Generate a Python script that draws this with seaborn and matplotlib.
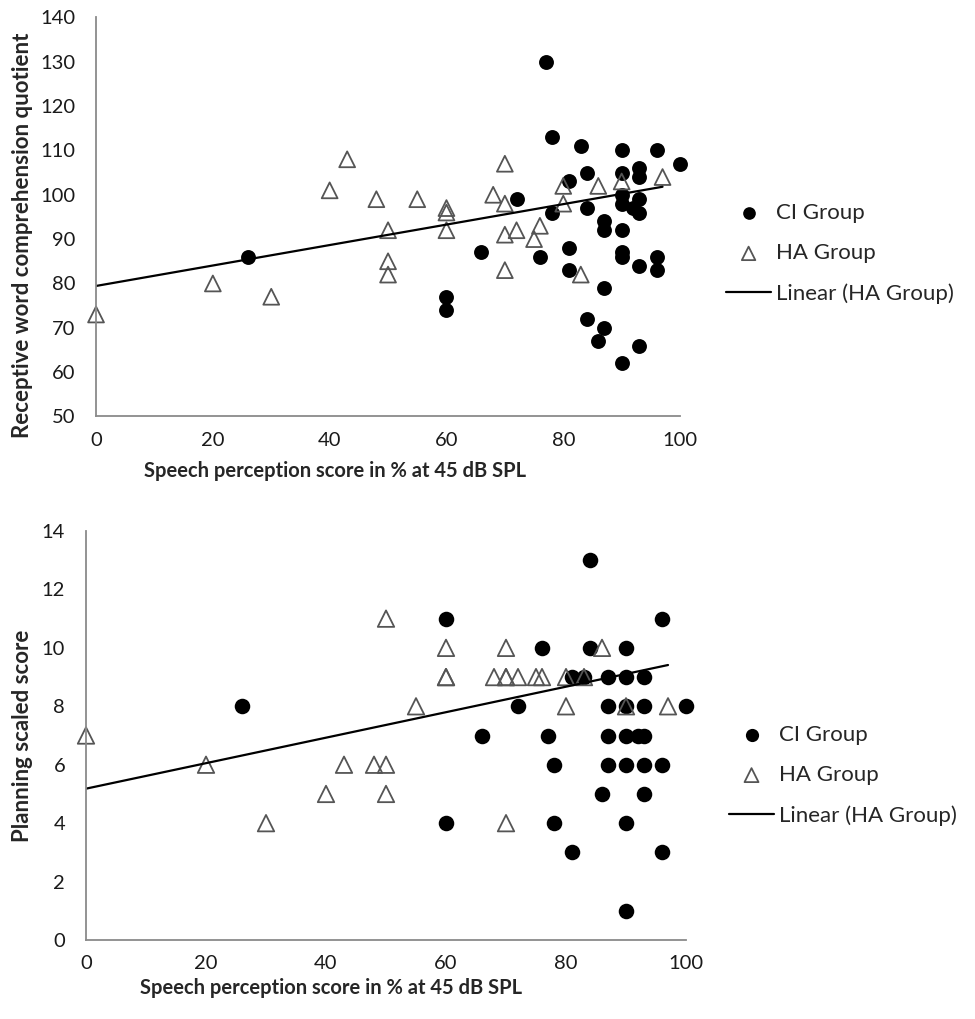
import matplotlib
matplotlib.use("Agg")
import matplotlib.pyplot as plt
import seaborn as sns

sns.set_style("white")
plt.rcParams['font.family'] = ['Lato', 'DejaVu Sans']

# --- top panel: receptive word comprehension quotient ---
ci_x_top = [26, 60, 60, 66, 72, 76, 77, 78, 78, 81, 81, 81, 83, 84, 84, 84, 86, 87, 87, 87,
            87, 90, 90, 90, 90, 90, 90, 90, 90, 92, 93, 93, 93, 93, 93, 93, 96, 96, 96, 100]
ci_y_top = [86, 77, 74, 87, 99, 86, 130, 113, 96, 103, 88, 83, 111, 105, 97, 72, 67, 94, 92, 79,
            70, 110, 105, 100, 98, 92, 87, 86, 62, 97, 106, 104, 99, 96, 84, 66, 110, 86, 83, 107]
ha_x_top = [0, 20, 30, 40, 43, 48, 50, 50, 50, 55, 60, 60, 60, 68, 70, 70, 70, 70, 72, 75,
            76, 80, 80, 83, 86, 90, 97]
ha_y_top = [73, 80, 77, 101, 108, 99, 92, 85, 82, 99, 97, 96, 92, 100, 107, 98, 91, 83, 92, 90,
            93, 102, 98, 82, 102, 103, 104]

# --- bottom panel: planning scaled score ---
ci_x_bot = [26, 60, 60, 66, 72, 76, 77, 78, 78, 81, 81, 83, 84, 84, 86, 87, 87, 87, 87, 90,
            90, 90, 90, 90, 90, 90, 92, 93, 93, 93, 93, 93, 96, 96, 96, 100]
ci_y_bot = [8, 11, 4, 7, 8, 10, 7, 6, 4, 3, 9, 9, 13, 10, 5, 9, 8, 7, 6, 10,
            9, 8, 7, 6, 4, 1, 7, 9, 8, 7, 6, 5, 11, 6, 3, 8]
ha_x_bot = [0, 20, 30, 40, 43, 48, 50, 50, 50, 55, 60, 60, 60, 68, 70, 70, 70, 70, 72, 75,
            76, 80, 80, 83, 86, 90, 97]
ha_y_bot = [7, 6, 4, 5, 6, 6, 6, 5, 11, 8, 10, 9, 9, 9, 10, 9, 9, 4, 9, 9,
            9, 9, 8, 9, 10, 8, 8]

x_label = "Speech perception score in % at 45 dB SPL"

fig = plt.figure(figsize=(9.75, 10.19), dpi=100)
ax1 = fig.add_axes([0.0985, 0.5913, 0.599, 0.3916])
ax2 = fig.add_axes([0.0882, 0.0775, 0.6154, 0.4014])


def draw_panel(ax, cx, cy, hx, hy, ylim, ystep, ylabel, dot_s, tri_s):
    sns.scatterplot(x=cx, y=cy, ax=ax, marker='o', color='black', s=dot_s,
                    linewidth=0, label='CI Group')
    sns.scatterplot(x=hx, y=hy, ax=ax, marker='^', color='#555555', s=tri_s,
                    linewidth=1.3, label='HA Group')
    ax.collections[-1].set_facecolor('none')
    ax.collections[-1].set_edgecolor('#555555')
    sns.regplot(x=hx, y=hy, ax=ax, scatter=False, ci=None, truncate=True,
                color='black', line_kws={'lw': 1.6}, label='Linear (HA Group)')
    for c in ax.collections:
        c.set_clip_on(False)

    ax.set_xlim(0, 100)
    ax.set_ylim(*ylim)
    ax.set_xticks(range(0, 101, 20))
    ax.set_yticks(range(ylim[0], ylim[1] + 1, ystep))
    ax.tick_params(length=0, labelsize=14.5, colors='#1a1a1a')
    ax.tick_params(axis='y', pad=15)
    ax.tick_params(axis='x', pad=11)
    sns.despine(ax=ax)
    for sp in ['left', 'bottom']:
        ax.spines[sp].set_color('#8a8a8a')
        ax.spines[sp].set_linewidth(1.3)
    ax.set_xlabel(x_label, fontsize=14.5, fontweight='bold')
    ax.set_ylabel(ylabel, fontsize=16, fontweight='bold')
    ax.get_legend().remove()


draw_panel(ax1, ci_x_top, ci_y_top, ha_x_top, ha_y_top, (50, 140), 10,
           "Receptive word comprehension quotient", 115, 130)
draw_panel(ax2, ci_x_bot, ci_y_bot, ha_x_bot, ha_y_bot, (0, 14), 2,
           "Planning scaled score", 125, 140)

ax1.xaxis.set_label_coords(0.41, -0.112)
ax1.yaxis.set_label_coords(-0.108, 0.455)
ax2.xaxis.set_label_coords(0.408, -0.094)
ax2.yaxis.set_label_coords(-0.088, 0.5)

for ax, anchor in [(ax1, (0.745, 0.801)), (ax2, (0.748, 0.289))]:
    h, l = ax.get_legend_handles_labels()
    ax.legend(h, l, loc='upper left', bbox_to_anchor=anchor,
              bbox_transform=fig.transFigure, frameon=False, fontsize=16,
              handlelength=2.0, handletextpad=0.25, labelspacing=0.92,
              borderpad=0, borderaxespad=0, markerscale=0.85)

fig.savefig("out.png", dpi=100)
